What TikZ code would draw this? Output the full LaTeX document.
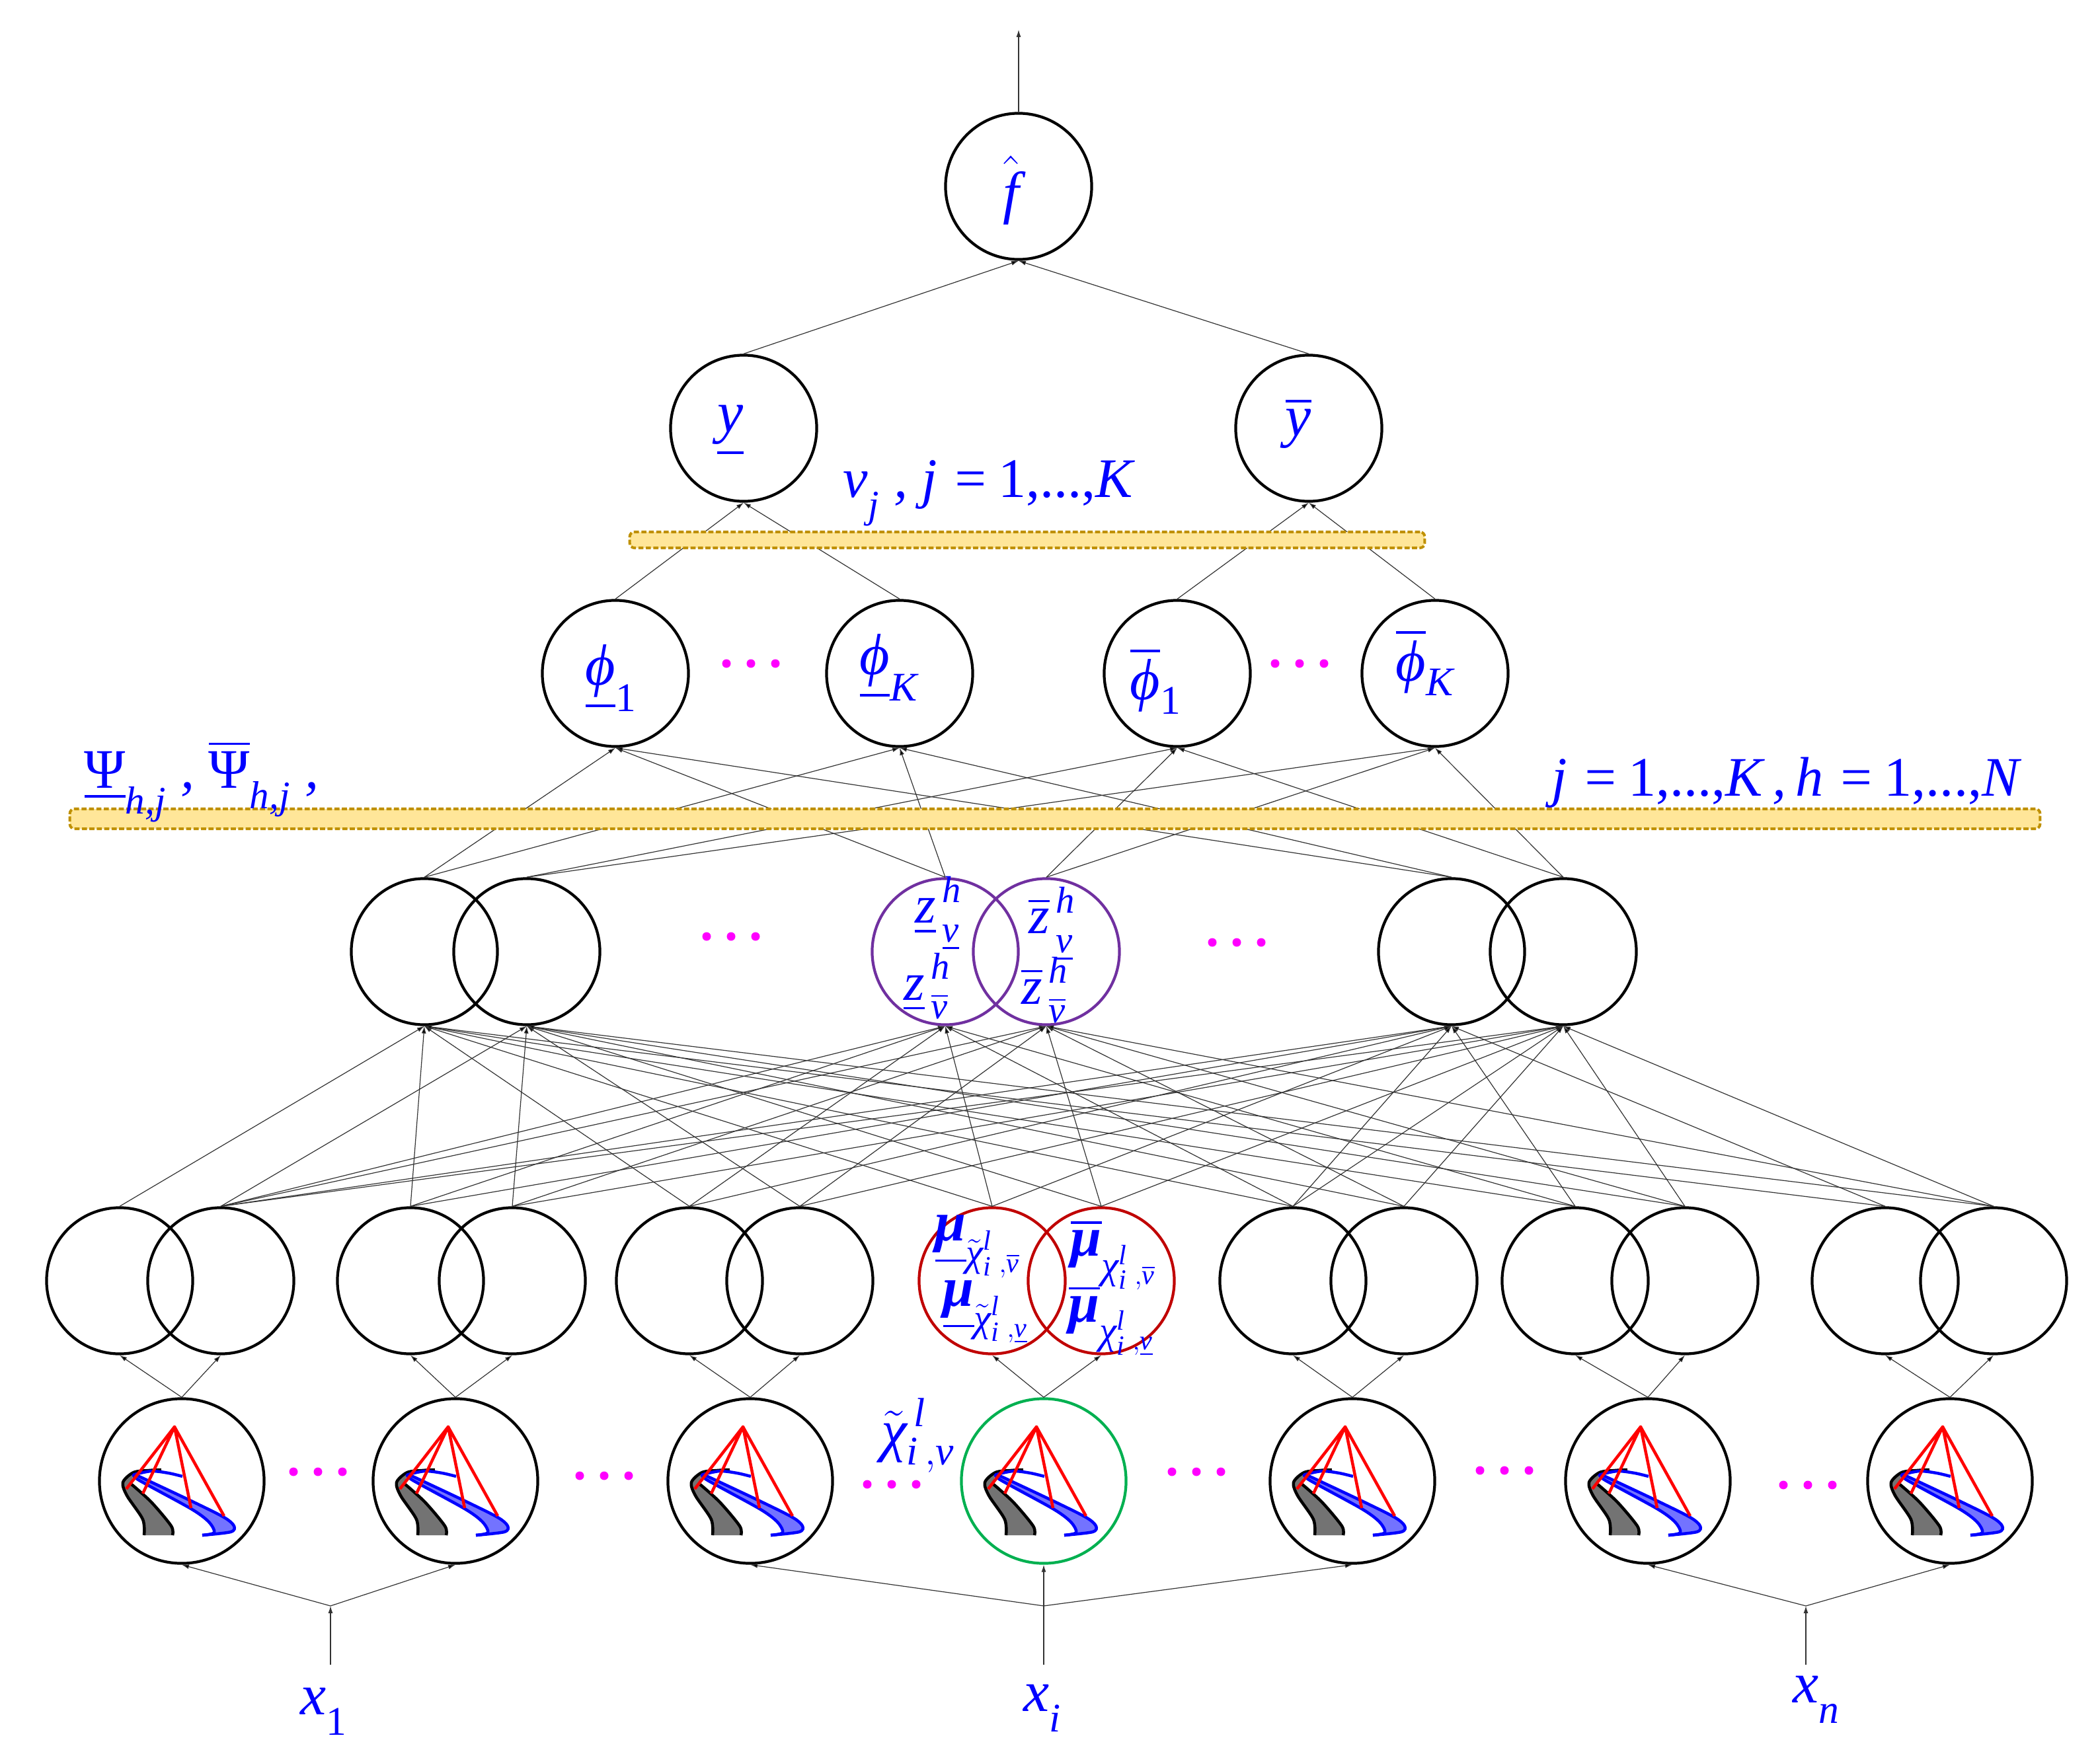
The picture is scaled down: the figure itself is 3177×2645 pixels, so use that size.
\documentclass[tikz,border=0pt]{standalone}
\usepackage{amsmath}
\usepackage{fontspec}
\usetikzlibrary{arrows.meta}
\setmainfont{Liberation Serif}
\definecolor{bandfill}{HTML}{FFE699}
\definecolor{bandline}{HTML}{BF9000}
\definecolor{ringpurple}{HTML}{7030A0}
\definecolor{ringred}{HTML}{C00000}
\definecolor{ringgreen}{HTML}{00B050}
\definecolor{dotpink}{HTML}{FF00FF}
\tikzset{
  unit/.style={circle, draw, line width=0.042cm, minimum size=2.21cm, inner sep=0pt},
  fuzzy/.style={unit, minimum size=2.49cm},
  link/.style={draw=black!80, line width=0.012cm,
    every edge/.append style={-{Latex[length=0.11cm,width=0.07cm]}}},
  linkup/.style={link, -{Latex[length=0.11cm,width=0.07cm]}},
  band/.style={draw=bandline, fill=bandfill, rounded corners=2pt, line width=0.04cm,
    dash pattern=on 2.2pt off 1pt, inner sep=0pt},
  lab/.style={text=blue, inner sep=0pt, font=\fontsize{25}{30}\selectfont\itshape},
  labw/.style={lab, font=\fontsize{24}{29}\selectfont\itshape},
  labz/.style={lab, font=\fontsize{23}{28}\selectfont\itshape},
  labmu/.style={lab, font=\fontsize{24}{29}\selectfont\itshape}
}
\newcommand{\vr}[1]{\text{#1}}
\newcommand{\rsub}[1]{\text{\raisebox{-.3em}{#1}}}
\newcommand{\zsub}[1]{\text{\raisebox{-.12em}{#1}}}
\newcommand{\dotrow}[2]{
  \fill [dotpink] (#1-37,#2) circle (6.5);
  \fill [dotpink] (#1,#2) circle (6.5);
  \fill [dotpink] (#1+37,#2) circle (6.5);
}
\newcommand{\conefig}[2]{
  \begin{scope}[shift={(#1,#2)}]
    \fill [black!55] plot [smooth] coordinates {(-73,-13) (-89,2) (-83,22) (-59,58) (-57,82)}
      -- plot [smooth] coordinates {(-14,82) (-16,68) (-46,32) (-76,5)} -- cycle;
    \draw [line width=0.045cm] plot [smooth] coordinates {(-31,-17) (-50,-16) (-73,-13) (-89,2) (-83,22) (-59,58) (-57,82)};
    \draw [line width=0.045cm] plot [smooth] coordinates {(-76,5) (-46,32) (-16,68) (-14,82)};
    \fill [blue!55] plot [smooth] coordinates {(-71,-10) (14,30) (64,55) (79,68) (74,77) (31,82)}
      -- plot [smooth] coordinates {(49,78) (41,62) (14,42) (-66,-2)} -- cycle;
    \draw [blue, line width=0.045cm] plot [smooth] coordinates {(-71,-10) (14,30) (64,55) (79,68) (74,77) (31,82)};
    \draw [blue, line width=0.045cm] plot [smooth] coordinates {(-71,-10) (-66,-2) (14,42) (41,62) (49,78) (31,82)};
    \draw [blue, line width=0.045cm] plot [smooth] coordinates {(-71,-10) (-46,-15) (-20,-12) (1,-7)};
    \draw [red, line width=0.045cm, line join=round] (-84,12) -- (-11,-82) -- (-59,19);
    \draw [red, line width=0.045cm, line join=round] (14,41) -- (-11,-82) -- (64,53);
  \end{scope}
}
\begin{document}
\begin{tikzpicture}[x=0.01cm,y=-0.01cm]
  \useasboundingbox (0,0) rectangle (3177,2645);
  % output
  \node (fhat) [unit] at (1541,282) {};
  \coordinate (top) at (1541,45);
  \node (ya) [unit] at (1125,648) {};
  \node (yb) [unit] at (1980,648) {};
  % rule layer
  \node (pha) [unit] at (931,1019) {};
  \node (phb) [unit] at (1361,1019) {};
  \node (phc) [unit] at (1781,1019) {};
  \node (phd) [unit] at (2171,1019) {};
  % firing layer
  \node (z1a) [unit] at (642,1440) {};
  \node (z1b) [unit] at (797,1440) {};
  \node (z2a) [unit, draw=ringpurple] at (1430,1440) {};
  \node (z2b) [unit, draw=ringpurple] at (1583,1440) {};
  \node (z3a) [unit] at (2196,1440) {};
  \node (z3b) [unit] at (2365,1440) {};
  % membership layer
  \node (mu1a) [unit] at (181,1938) {};
  \node (mu1b) [unit] at (334,1938) {};
  \node (mu2a) [unit] at (621,1938) {};
  \node (mu2b) [unit] at (775,1938) {};
  \node (mu3a) [unit] at (1043,1938) {};
  \node (mu3b) [unit] at (1210,1938) {};
  \node (mu4a) [unit, draw=ringred] at (1501,1938) {};
  \node (mu4b) [unit, draw=ringred] at (1666,1938) {};
  \node (mu5a) [unit] at (1956,1938) {};
  \node (mu5b) [unit] at (2124,1938) {};
  \node (mu6a) [unit] at (2383,1938) {};
  \node (mu6b) [unit] at (2549,1938) {};
  \node (mu7a) [unit] at (2852,1938) {};
  \node (mu7b) [unit] at (3016,1938) {};
  % input layer
  \node (chi1) [fuzzy] at (275,2241) {};
  \node (chi2) [fuzzy] at (689,2241) {};
  \node (chi3) [fuzzy] at (1135,2241) {};
  \node (chi4) [fuzzy, draw=ringgreen] at (1579,2241) {};
  \node (chi5) [fuzzy] at (2046,2241) {};
  \node (chi6) [fuzzy] at (2493,2241) {};
  \node (chi7) [fuzzy] at (2950,2241) {};
  \conefig{275}{2241}
  \conefig{689}{2241}
  \conefig{1135}{2241}
  \conefig{1579}{2241}
  \conefig{2046}{2241}
  \conefig{2493}{2241}
  \conefig{2950}{2241}
  % inputs
  \coordinate (sa) at (500,2519);
  \coordinate (sb) at (1579,2519);
  \coordinate (sc) at (2732,2519);
  \coordinate (ba) at (500,2430);
  \coordinate (bb) at (1579,2430);
  \coordinate (bc) at (2732,2430);
  \draw [linkup] (sa) -- (ba);
  \draw [linkup] (sc) -- (bc);
  \draw [linkup] (sb) -- (chi4.south);
  \draw [link] (ba) edge (chi1.south) edge (chi2.south);
  \draw [link] (bb) edge (chi3.south) edge (chi5.south);
  \draw [link] (bc) edge (chi6.south) edge (chi7.south);
  % inputs to memberships
  \draw [link] (chi1.north) edge (mu1a.south) edge (mu1b.south);
  \draw [link] (chi2.north) edge (mu2a.south) edge (mu2b.south);
  \draw [link] (chi3.north) edge (mu3a.south) edge (mu3b.south);
  \draw [link] (chi4.north) edge (mu4a.south) edge (mu4b.south);
  \draw [link] (chi5.north) edge (mu5a.south) edge (mu5b.south);
  \draw [link] (chi6.north) edge (mu6a.south) edge (mu6b.south);
  \draw [link] (chi7.north) edge (mu7a.south) edge (mu7b.south);
  % memberships to firing
  \draw [link] (mu1a.north) edge (z1a.south);
  \draw [link] (mu1b.north) edge (z1b.south) edge (z2a.south) edge (z2b.south) edge (z3a.south) edge (z3b.south);
  \draw [link] (mu2a.north) edge (z1a.south) edge (z2a.south) edge (z3a.south);
  \draw [link] (mu2b.north) edge (z1b.south) edge (z2b.south) edge (z3b.south);
  \draw [link] (mu3a.north) edge (z1a.south) edge (z2a.south) edge (z3a.south);
  \draw [link] (mu3b.north) edge (z1b.south) edge (z2b.south) edge (z3b.south);
  \draw [link] (mu4a.north) edge (z1a.south) edge (z2a.south) edge (z3a.south);
  \draw [link] (mu4b.north) edge (z1b.south) edge (z2b.south) edge (z3b.south);
  \draw [link] (mu5a.north) edge (z1a.south) edge (z2a.south) edge (z3a.south) edge (z3b.south);
  \draw [link] (mu5b.north) edge (z1b.south) edge (z2b.south) edge (z3b.south);
  \draw [link] (mu6a.north) edge (z1a.south) edge (z2a.south) edge (z3a.south);
  \draw [link] (mu6b.north) edge (z1b.south) edge (z2b.south) edge (z3b.south);
  \draw [link] (mu7a.north) edge (z1a.south) edge (z3a.south);
  \draw [link] (mu7b.north) edge (z1b.south) edge (z2b.south) edge (z3b.south);
  % firing to rules
  \draw [link] (z1a.north) edge (pha.south) edge (phb.south);
  \draw [link] (z1b.north) edge (phc.south) edge (phd.south);
  \draw [link] (z2a.north) edge (pha.south) edge (phb.south);
  \draw [link] (z2b.north) edge (phc.south) edge (phd.south);
  \draw [link] (z3a.north) edge (pha.south) edge (phb.south);
  \draw [link] (z3b.north) edge (phc.south) edge (phd.south);
  % rules to output
  \draw [link] (pha.north) edge (ya.south);
  \draw [link] (phb.north) edge (ya.south);
  \draw [link] (phc.north) edge (yb.south);
  \draw [link] (phd.north) edge (yb.south);
  \draw [link] (ya.north) edge (fhat.south);
  \draw [link] (yb.north) edge (fhat.south);
  \draw [linkup] (fhat.north) -- (top);
  % bands
  \node (bandv) [band, minimum width=12.02cm, minimum height=0.24cm] at (1554,817) {};
  \node (bandw) [band, minimum width=29.79cm, minimum height=0.30cm] at (1596,1239) {};
  % dots
  \dotrow{481}{2227}
  \dotrow{914}{2233}
  \dotrow{1349}{2246}
  \dotrow{1810}{2227}
  \dotrow{2276}{2225}
  \dotrow{2735}{2247}
  \dotrow{1106}{1417}
  \dotrow{1871}{1426}
  \dotrow{1136}{1004}
  \dotrow{1966}{1004}
  % labels
  \node (lfhat) [lab] at (1530,288) {$\hat{\vr{f}}$};
  \node (lya) [lab] at (1105,652) {$\underline{\vr{y}}$};
  \node (lyb) [lab] at (1964,640) {$\overline{\vr{y}}$};
  \node (lv) [labw] at (1495,746) {$\vr{ν}_{\rsub{j}}$ , j =\,\textup{1,...,}K};
  \node (lw) [labw] at (2701,1184) {j =\,\textup{1,...,}K\,,\,h =\,\textup{1,...,}N};
  \node (lpsi) [labw] at (305,1182) {$\underline{\textup{Ψ}}_{\rsub{h,j}}$ , $\overline{\textup{Ψ}}_{\rsub{h,j}}$ ,};
  \node (lpha) [lab] at (925,1026) {$\underline{\vr{ϕ}}_{\textup{1}}$};
  \node (lphb) [lab] at (1345,1010) {$\underline{\vr{ϕ}}_{\vr{K}}$};
  \node (lphc) [lab] at (1749,1030) {$\overline{\vr{ϕ}}_{\textup{1}}$};
  \node (lphd) [lab] at (2156,1002) {$\overline{\vr{ϕ}}_{\vr{K}}$};
  \node (lz1) [labz] at (1420,1382) {$\underline{\vr{z}}^{\,\vr{h}}_{\,\zsub{$\underline{\vr{ν}}$}}$};
  \node (lz2) [labz] at (1403,1492) {$\underline{\vr{z}}^{\,\vr{h}}_{\,\zsub{$\overline{\vr{ν}}$}}$};
  \node (lz3) [labz] at (1592,1398) {$\overline{\vr{z}}^{\,\vr{h}}_{\,\zsub{$\underline{\vr{ν}}$}}$};
  \node (lz4) [labz] at (1581,1498) {$\overline{\vr{z}}^{\,\vr{h}}_{\,\zsub{$\overline{\vr{ν}}$}}$};
  \node (lm1) [labmu] at (1480,1886) {$\underline{\text{\bfseries μ}}_{\tilde{\vr{χ}}^{\vr{l}}_{\vr{i}}\,{}_{{,\overline{\vr{ν}}}}}$};
  \node (lm2) [labmu] at (1492,1985) {$\underline{\text{\bfseries μ}}_{\tilde{\vr{χ}}^{\vr{l}}_{\vr{i}}\,{}_{{,\underline{\vr{ν}}}}}$};
  \node (lm3) [labmu] at (1685,1898) {$\overline{\text{\bfseries μ}}_{\rule{0pt}{18pt}\vr{χ}^{\vr{l}}_{\vr{i}}\,{}_{{,\overline{\vr{ν}}}}}$};
  \node (lm4) [labmu] at (1682,1998) {$\overline{\text{\bfseries μ}}_{\rule{0pt}{18pt}\vr{χ}^{\vr{l}}_{\vr{i}}\,{}_{{,\underline{\vr{ν}}}}}$};
  \node (lchi) [lab] at (1389,2172) {$\tilde{\vr{χ}}^{\,\vr{l}}_{\vr{i}\,,\vr{ν}}$};
  \node (lxa) [lab] at (490,2590) {x$_{\rsub{\textup{1}}}$};
  \node (lxb) [lab] at (1577,2585) {x$_{\rsub{i}}$};
  \node (lxc) [lab] at (2748,2572) {x$_{\rsub{n}}$};
\end{tikzpicture}
\end{document}
